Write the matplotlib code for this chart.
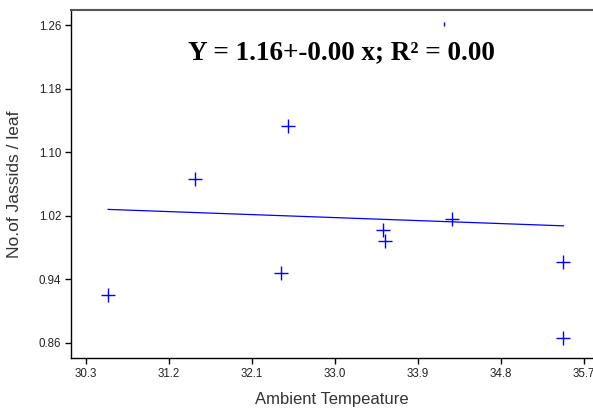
import numpy as np
import matplotlib
matplotlib.use("Agg")
import matplotlib.pyplot as plt

temp = [30.54, 31.48, 32.49, 32.42, 33.52, 33.54, 34.27, 35.48, 35.48, 34.18]
jassids = [0.920, 1.066, 1.133, 0.948, 1.002, 0.988, 1.016, 0.962, 0.866, 1.262]
xticks = [30.3, 31.2, 32.1, 33.0, 33.9, 34.8, 35.7]
yticks = [0.86, 0.94, 1.02, 1.10, 1.18, 1.26]

W, H = 593, 408
fig = plt.figure(figsize=(W/100, H/100), dpi=100)
ax = fig.add_axes([71/W, (H-358)/H, (W-71)/W, (358-10)/H])

blue = "#0000ff"
x = np.array(temp); y = np.array(jassids)
ax.plot(x[:9], y[:9], linestyle="none", marker="+", markersize=10, mew=1.0, color=blue)
ax.plot(x[9:], y[9:], linestyle="none", marker="|", markersize=3, mew=1.0, color=blue)
b, a = np.polyfit(x, y, 1)
xs = np.array([x.min(), x.max()])
ax.plot(xs, a + b*xs, color=blue, lw=0.9)

ax.set_xlim(30.138, 35.80)
ax.set_ylim(0.841, 1.279)
ax.set_xticks(xticks)
ax.set_xticklabels([f"{v:.1f}" for v in xticks])
ax.set_yticks(yticks)
ax.set_yticklabels([f"{v:.2f}" for v in yticks])
ax.tick_params(direction="out", length=4, width=1, labelsize=8.3, pad=3, labelcolor="#222222")
for lab in ax.get_xticklabels() + ax.get_yticklabels():
    lab.set_fontfamily("Liberation Sans")
ax.spines["right"].set_visible(False)
ax.spines["top"].set_color("#555555")
ax.spines["top"].set_linewidth(1.5)
ax.spines["left"].set_linewidth(1.0)
ax.spines["bottom"].set_linewidth(1.0)

ax.set_xlabel("Ambient Tempeature", fontsize=12, family="Liberation Sans", color="#333333", labelpad=9)
ax.set_ylabel("No.of Jassids / leaf", fontsize=12.5, family="Liberation Sans", color="#333333", labelpad=12)

fig.text(341/W, 1 - 53/H, "Y = 1.16+-0.00 x; R² = 0.00", fontsize=19.5,
         family="Liberation Serif", weight="bold", ha="center", va="center")
fig.savefig("out.png", dpi=100)
